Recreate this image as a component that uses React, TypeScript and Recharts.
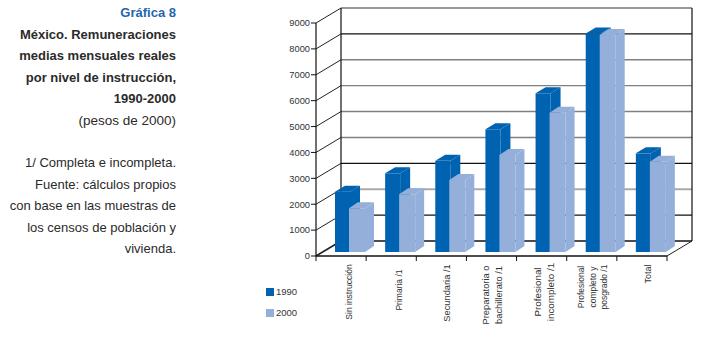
import { Bar, BarChart, CartesianGrid, Legend, XAxis, YAxis } from 'recharts';

const categories = [
  'Sin instrucción',
  'Primaria /1',
  'Secundaria /1',
  'Preparatoria o\nbachillerato /1',
  'Profesional\nincompleto /1',
  'Profesional\ncompleto y\nposgrado /1',
  'Total',
];
const values1990 = [2330, 3040, 3520, 4740, 6130, 8440, 3810];
const values2000 = [1690, 2230, 2780, 3750, 5380, 8380, 3490];
const yTicks = [0, 1000, 2000, 3000, 4000, 5000, 6000, 7000, 8000, 9000];

const titleLines = ['México. Remuneraciones', 'medias mensuales reales', 'por nivel de instrucción,', '1990-2000'];
const noteLines = ['1/ Completa e incompleta.', 'Fuente: cálculos propios', 'con base en las muestras de', 'los censos de población y', 'vivienda.'];

const data = categories.map((name, i) => ({ name, y1990: values1990[i], y2000: values2000[i] }));

const DARK = '#0063b1';
const LIGHT = '#95afdb';
const FONT = '"Liberation Sans", Arial, sans-serif';
const WALL_X = 25;
const WALL_Y = 15;
const PLOT_H = 233;

// grid colour per tick value
const gridStyle: Record<number, { stroke: string; width: number }> = {
  0: { stroke: '#111', width: 1.4 },
  1000: { stroke: '#111', width: 1.2 },
  2000: { stroke: '#aaa', width: 2 },
  3000: { stroke: '#111', width: 1.2 },
  4000: { stroke: '#808080', width: 1.4 },
  5000: { stroke: '#808080', width: 1.4 },
  6000: { stroke: '#808080', width: 1.4 },
  7000: { stroke: '#808080', width: 1.4 },
  8000: { stroke: '#111', width: 1.2 },
  9000: { stroke: '#333', width: 1.2 },
};

// nudges and sizes for the rotated labels, same order as categories
const labelStyle = [
  { dx: 8, center: 36, size: 8.5 },
  { dx: 8, center: 34, size: 8.5 },
  { dx: 6, center: 37, size: 9.3 },
  { dx: 1, center: 39, size: 9.3 },
  { dx: 3, center: 36, size: 9.8 },
  { dx: 1, center: 31, size: 8.5 },
  { dx: 6, center: 18, size: 9 },
];

function WallLine(props: any) {
  const { x1, x2, y1 } = props;
  const value = Math.round(((256 - y1) / PLOT_H) * 9000);
  const s = gridStyle[value] ?? gridStyle[0];
  return (
    <g key={props.key ?? y1}>
      <line x1={x1} y1={y1} x2={x1 + WALL_X} y2={y1 - WALL_Y} stroke="#222" strokeWidth={value === 0 ? 1.6 : 1} />
      <line x1={x1 + WALL_X} y1={y1 - WALL_Y} x2={x2 + WALL_X} y2={y1 - WALL_Y} stroke={s.stroke} strokeWidth={s.width} />
      {value === 0 && <line x1={x2} y1={y1} x2={x2 + WALL_X} y2={y1 - WALL_Y} stroke="#222" strokeWidth={1} />}
      {value === 9000 && (
        <>
          <line x1={x1 + WALL_X} y1={y1 - WALL_Y} x2={x1 + WALL_X} y2={y1 - WALL_Y + PLOT_H} stroke="#111" strokeWidth={1.2} />
          <line x1={x2 + WALL_X} y1={y1 - WALL_Y} x2={x2 + WALL_X} y2={y1 - WALL_Y + PLOT_H} stroke="#111" strokeWidth={1.2} />
        </>
      )}
    </g>
  );
}

function Bar3D(props: any) {
  const { x, y, height, fill } = props;
  // the 2000 bar overlaps its neighbour a little in the original
  const isFront = fill === LIGHT;
  const width = isFront ? props.width + 1 : props.width;
  const bx = x + (isFront ? 8 : 9);
  const by = y - 4;
  const dx = isFront ? 9 : 10;
  const dy = -6;
  return (
    <g>
      <rect x={bx} y={by} width={width} height={height} fill={fill} />
      <path d={`M${bx},${by}L${bx + dx},${by + dy}L${bx + width + dx},${by + dy}L${bx + width},${by}Z`} fill={fill} />
      <path d={`M${bx + width},${by}L${bx + width + dx},${by + dy}L${bx + width + dx},${by + height + dy}L${bx + width},${by + height}Z`} fill={fill} />
    </g>
  );
}

function CategoryTick(props: any) {
  const { x, payload, index } = props;
  const half = payload.offset ?? 25;
  const lines = String(payload.value).split('\n');
  const st = labelStyle[index] ?? labelStyle[0];
  const lineGap = st.size + 3;
  const left = x - half;
  return (
    <g>
      <line x1={left} y1={256} x2={left} y2={261} stroke="#111" strokeWidth={1} />
      {index === categories.length - 1 && <line x1={x + half} y1={256} x2={x + half} y2={261} stroke="#111" strokeWidth={1} />}
      {lines.map((line, i) => {
        const tx = x + st.dx + (i - (lines.length - 1) / 2) * lineGap + 3;
        const ty = 256 + st.center;
        return (
          <text key={i} x={tx} y={ty} transform={`rotate(-90 ${tx} ${ty})`} textAnchor="middle" fontSize={st.size} fontFamily={FONT} fill="#333">
            {line}
          </text>
        );
      })}
    </g>
  );
}

function LegendBox({ payload }: any) {
  return (
    <div>
      {(payload ?? []).map((p: any) => (
        <div key={p.value} style={{ display: 'flex', alignItems: 'center', height: 21, fontFamily: FONT, fontSize: 9.5, color: '#333' }}>
          <span style={{ display: 'inline-block', width: 8, height: 8, background: p.color, marginRight: 2 }} />
          {p.value}
        </div>
      ))}
    </div>
  );
}

const lineBox = (top: number, text: string, extra: any = {}) => (
  <div
    key={text}
    style={{ position: 'absolute', right: 528, top, whiteSpace: 'nowrap', fontFamily: FONT, fontSize: 13, lineHeight: '16px', color: '#2b2b2b', ...extra }}
  >
    {text}
  </div>
);

export default function App() {
  return (
    <div style={{ position: 'absolute', left: 0, top: 0, width: 704, height: 338, background: '#fff', overflow: 'hidden' }}>
      {lineBox(5, 'Gráfica 8', { fontWeight: 700, color: '#1f66ad' })}
      {titleLines.map((t, i) => lineBox(27 + i * 21.3, t, { fontWeight: 700 }))}
      {lineBox(113, '(pesos de 2000)', { fontSize: 13.5 })}
      {noteLines.map((t, i) => lineBox(155 + i * 21.6, t))}
      <BarChart
        width={704}
        height={338}
        data={data}
        barSize={15}
        barGap={0}
        margin={{ top: 23, right: 37, bottom: 22, left: 256 }}
      >
        <CartesianGrid horizontal={WallLine} vertical={false} />
        <XAxis dataKey="name" interval={0} height={60} tickLine={false} axisLine={{ stroke: '#111', strokeWidth: 1.6 }} tick={CategoryTick} />
        <YAxis
          width={60}
          domain={[0, 9000]}
          ticks={yTicks}
          interval={0}
          tickSize={5}
          tickMargin={1}
          axisLine={{ stroke: '#111', strokeWidth: 1.2 }}
          tickLine={{ stroke: '#111' }}
          tick={{ fontSize: 9.3, fontFamily: FONT, fill: '#333' }}
        />
        <Legend
          layout="vertical"
          align="center"
          verticalAlign="middle"
          content={LegendBox}
          wrapperStyle={{ left: 266, top: 281, width: 60 }}
        />
        <Bar dataKey="y1990" name="1990" fill={DARK} shape={Bar3D} isAnimationActive={false} />
        <Bar dataKey="y2000" name="2000" fill={LIGHT} shape={Bar3D} isAnimationActive={false} />
      </BarChart>
    </div>
  );
}
